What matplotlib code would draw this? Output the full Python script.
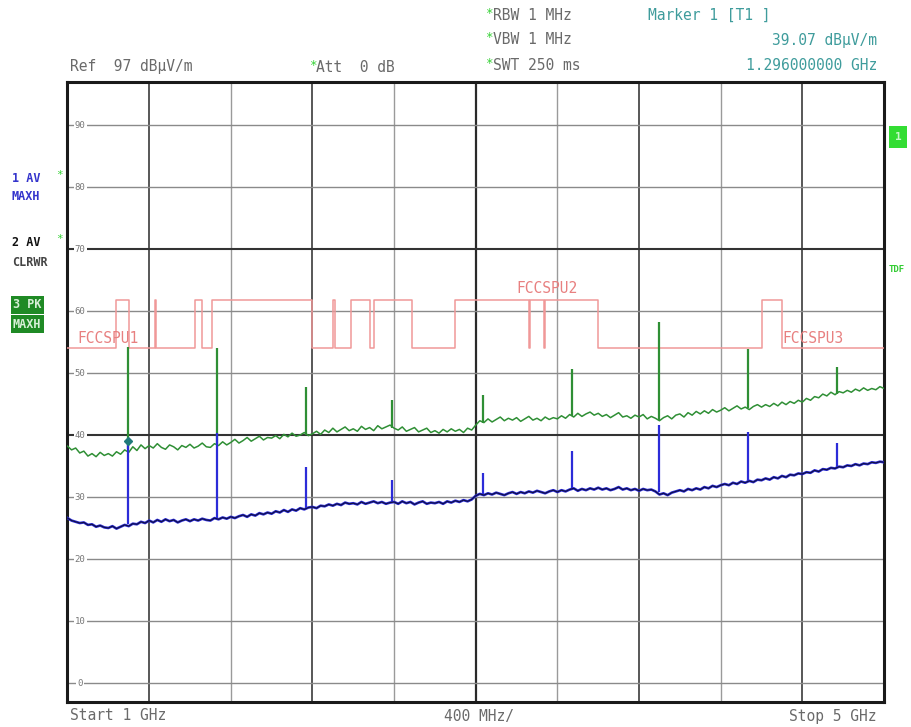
import matplotlib
matplotlib.use("Agg")
import matplotlib.pyplot as plt
import matplotlib.transforms as mtransforms
import numpy as np

# Sweep settings (GHz)
start_ghz = 1.0
stop_ghz = 5.0
step_ghz = 0.02

# Trace 3: PK MAXH (green), one value every 20 MHz from 1.00 to 5.00 GHz
peak_maxh = [
    38.2, 37.6, 37.9, 37.1, 37.4, 36.6, 37.0, 36.5, 37.2, 36.7,
    37.0, 36.6, 37.3, 36.9, 37.6, 37.2, 38.1, 37.5, 38.4, 37.8,
    38.3, 37.9, 38.6, 38.0, 37.7, 38.4, 38.1, 37.6, 38.3, 38.0,
    38.5, 37.9, 38.2, 38.7, 38.1, 38.0, 38.6, 38.3, 38.9, 38.4,
    38.8, 39.3, 38.7, 39.1, 39.6, 39.0, 39.4, 39.8, 39.2, 39.6,
    39.5, 39.9, 39.4, 40.1, 39.7, 40.3, 39.8, 40.0, 40.4, 39.9,
    40.2, 40.6, 40.1, 40.8, 40.4, 41.1, 40.5, 40.9, 41.3, 40.7,
    41.0, 40.6, 41.4, 40.9, 41.2, 40.7, 41.5, 41.0, 41.3, 41.6,
    41.1, 40.8, 41.3, 40.6, 40.9, 41.2, 40.5, 40.8, 41.1, 40.4,
    40.7, 40.3, 40.9, 40.5, 41.0, 40.6, 40.9, 40.4, 41.1, 40.8,
    41.6, 42.3, 42.0, 42.6, 42.1, 42.5, 42.9, 42.3, 42.7, 42.4,
    42.8, 42.2, 42.6, 43.0, 42.4, 42.7, 42.3, 42.9, 42.5, 42.8,
    42.6, 43.1, 42.7, 43.3, 42.9, 43.5, 43.0, 43.4, 43.7, 43.2,
    43.5, 43.0, 43.3, 42.8, 43.2, 43.6, 42.9, 43.1, 42.7, 43.2,
    42.9, 43.3, 42.6, 43.0, 42.7, 42.3, 42.8, 43.1, 42.6, 43.2,
    43.4, 42.9, 43.6, 43.2, 43.8, 43.4, 43.9, 43.5, 44.1, 43.7,
    44.0, 44.4, 43.9, 44.3, 44.7, 44.2, 44.5, 44.1, 44.6, 44.9,
    44.5, 44.9, 44.6, 45.1, 44.7, 45.3, 44.9, 45.4, 45.1, 45.6,
    45.3, 45.9, 45.6, 46.2, 46.0, 46.6, 46.3, 46.9, 46.5, 47.0,
    46.8, 47.2, 46.9, 47.4, 47.1, 47.6, 47.2, 47.5, 47.3, 47.8,
    47.5,
]

# Traces 1/2: AV MAXH (blue) and AV CLRWR (black) - nearly identical floor
avg_trace = [
    26.6, 26.2, 26.0, 25.8, 25.9, 25.5, 25.6, 25.2, 25.4, 25.1,
    25.0, 25.3, 24.9, 25.2, 25.5, 25.3, 25.7, 25.6, 26.0, 25.8,
    26.2, 25.9, 26.3, 26.0, 26.4, 26.1, 26.3, 25.9, 26.2, 26.4,
    26.1, 26.4, 26.2, 26.5, 26.3, 26.2, 26.6, 26.4, 26.7, 26.5,
    26.8, 26.6, 26.9, 27.1, 26.8, 27.2, 27.0, 27.4, 27.2, 27.5,
    27.3, 27.7, 27.5, 27.9, 27.6, 28.0, 27.8, 28.2, 28.0, 28.3,
    28.4, 28.2, 28.6, 28.5, 28.8, 28.6, 28.9, 28.7, 29.1, 28.9,
    29.0, 28.8, 29.2, 28.9, 29.1, 29.3, 29.0, 29.2, 28.9, 29.1,
    29.2, 28.9, 29.3, 29.0, 29.2, 28.8, 29.1, 29.3, 28.9, 29.1,
    29.0, 29.2, 28.9, 29.3, 29.1, 29.4, 29.2, 29.5, 29.3, 29.6,
    30.2, 30.5, 30.3, 30.6, 30.4, 30.7, 30.5, 30.3, 30.6, 30.8,
    30.5, 30.8, 30.6, 30.9, 30.7, 31.0, 30.8, 30.6, 30.9, 31.1,
    30.8, 31.1, 30.9, 31.2, 31.4, 31.0, 31.3, 31.1, 31.4, 31.2,
    31.5, 31.2, 31.4, 31.1, 31.3, 31.6, 31.2, 31.4, 31.1, 31.3,
    31.0, 31.3, 31.1, 31.2, 30.9, 30.4, 30.6, 30.3, 30.7, 30.9,
    31.1, 30.9, 31.3, 31.1, 31.4, 31.2, 31.6, 31.4, 31.8, 31.6,
    31.9, 32.1, 31.9, 32.3, 32.1, 32.5, 32.3, 32.6, 32.4, 32.8,
    32.7, 33.0, 32.8, 33.2, 33.0, 33.4, 33.2, 33.6, 33.5, 33.8,
    33.7, 34.0, 33.9, 34.3, 34.1, 34.5, 34.4, 34.7, 34.6, 34.9,
    34.8, 35.1, 35.0, 35.3, 35.1, 35.4, 35.3, 35.6, 35.5, 35.7,
    35.6,
]

# Harmonic spurs: frequency, floor and top for each trace
spur_ghz = [1.296, 1.73, 2.166, 2.59, 3.035, 3.47, 3.90, 4.336, 4.77]
spur_pk_floor = [37.8, 38.6, 40.0, 41.2, 42.0, 43.0, 42.5, 44.4, 46.6]
spur_pk_top = [54.2, 54.0, 47.7, 45.6, 46.5, 50.6, 58.2, 53.9, 51.0]
spur_av_floor = [25.6, 26.5, 28.1, 29.1, 30.4, 31.1, 30.8, 32.5, 34.7]
spur_av_top = [39.1, 40.3, 34.8, 32.7, 33.9, 37.4, 41.6, 40.5, 38.7]

# FCC limit line: restricted bands sit at the low level
limit_high = 61.8
limit_low = 54.0
restricted_lo = [1.0, 1.30, 1.435, 1.66, 2.20, 2.31, 2.4835, 2.69, 3.26, 3.332, 3.60, 4.50]
restricted_hi = [1.24, 1.427, 1.6265, 1.71, 2.30, 2.39, 2.50, 2.90, 3.267, 3.339, 4.40, 5.0]

marker_ghz = 1.296
marker_level = 39.07

W, H = 912, 727
MONO = "DejaVu Sans Mono"
GREY = "#6a6a6a"
TEAL = "#3f9c9c"
STAR = "#36d236"


def px(x, y):
    """pixel position -> figure fraction"""
    return x / W, 1 - y / H


fig = plt.figure(figsize=(W / 100, H / 100), dpi=100)
ax = fig.add_axes([67.5 / W, 1 - 701.6 / H, 816.5 / W, 620 / H])
ax.set_xlim(start_ghz, stop_ghz)
ax.set_ylim(-3, 97)
ax.set_xticks([])
ax.set_yticks([])
for sp in ax.spines.values():
    sp.set_linewidth(2.2)
    sp.set_color("#1a1a1a")

# grid
for i, f in enumerate(np.arange(1.4, 4.99, 0.4)):
    dark = i % 2 == 0
    ax.axvline(f, color="#2a2a2a" if dark else "#9a9a9a",
               lw=1.6 if abs(f - 3.0) < 1e-6 else (1.1 if dark else 1.0), zorder=1)
for lvl in range(0, 100, 10):
    dark = lvl in (70, 40)
    ax.axhline(lvl, color="#333333" if dark else "#8a8a8a", lw=1.5 if dark else 1.0, zorder=1)

ytrans = mtransforms.blended_transform_factory(ax.transAxes, ax.transData)
for lvl in range(0, 100, 10):
    ax.text(0.0155, lvl, f"{lvl}", transform=ytrans, ha="center", va="center",
            fontsize=6.5, family=MONO, color="#777777", zorder=2,
            bbox=dict(facecolor="white", edgecolor="none", pad=0.8))

# limit line
lim_x, lim_y = [], []
for lo, hi in zip(restricted_lo, restricted_hi):
    lim_x += [lo, lo, hi, hi]
    lim_y += [limit_high, limit_low, limit_low, limit_high]
ax.plot(lim_x[1:-1], lim_y[1:-1], color="#f09898", lw=1.1, zorder=3)
for label, f, lvl in [("FCCSPU1", 1.047, 55.6), ("FCCSPU2", 3.197, 63.7), ("FCCSPU3", 4.50, 55.6)]:
    ax.text(f, lvl, label, fontsize=10.5, family=MONO, color="#e88080",
            ha="left", va="center", zorder=3)

freq = np.linspace(start_ghz, stop_ghz, len(peak_maxh))

# traces
ax.plot(freq, peak_maxh, color="#2f8f35", lw=1.1, zorder=4)
ax.vlines(spur_ghz, spur_pk_floor, spur_pk_top, color="#2f8f35", lw=1.6, zorder=4)
ax.plot(freq, avg_trace, color="#2c2cd8", lw=1.9, zorder=5)
ax.vlines(spur_ghz, spur_av_floor, spur_av_top, color="#2c2cd8", lw=1.6, zorder=5)
ax.plot(freq, avg_trace, color="#101040", lw=0.8, zorder=6)
ax.plot([marker_ghz], [marker_level], marker="D", ms=4.5, color="#1f7a7a", zorder=7)

# header texts
def ftext(x, y, s, color=GREY, size=10.5, ha="left", **kw):
    fig.text(*px(x, y), s, color=color, fontsize=size, family=MONO,
             ha=ha, va="center", **kw)

ftext(70, 67, "Ref  97 dBµV/m")
ftext(309, 65, "*", color=STAR, size=9)
ftext(316, 67, "Att  0 dB")
for y, s in [(15, "RBW 1 MHz"), (40, "VBW 1 MHz"), (65, "SWT 250 ms")]:
    ftext(485, y - 2, "*", color=STAR, size=9)
    ftext(493, y, s)
ftext(648, 15, "Marker 1 [T1 ]", color=TEAL)
ftext(877, 40, "39.07 dBµV/m", color=TEAL, ha="right")
ftext(877, 65, "1.296000000 GHz", color=TEAL, ha="right")

ftext(70, 716, "Start 1 GHz")
ftext(479, 716, "400 MHz/", ha="center")
ftext(877, 716, "Stop 5 GHz", ha="right")

# trace legend on the left
ftext(12, 178, "1 AV", color="#3434cc", size=8.5, weight="bold")
ftext(56, 175, "*", color=STAR, size=8)
ftext(12, 197, "MAXH", color="#3434cc", size=8.5, weight="bold")
ftext(12, 242, "2 AV", color="#111111", size=8.5, weight="bold")
ftext(56, 239, "*", color=STAR, size=8)
ftext(12, 262, "CLRWR", color="#444444", size=8.5, weight="bold")
box = dict(facecolor="#1f8a25", edgecolor="none", pad=1.5)
ftext(13, 305, "3 PK", color="#d8f0d8", size=8.5, weight="bold", bbox=box)
ftext(13, 324, "MAXH", color="#d8f0d8", size=8.5, weight="bold", bbox=box)

# right side flags
ftext(895, 137, "1", color="#c8f8c8", size=8, weight="bold",
      bbox=dict(facecolor="#33dd33", edgecolor="none", pad=4))
ftext(889, 270, "TDF", color="#33cc33", size=6.5, weight="bold")

fig.savefig("out.png", dpi=100, facecolor="white")
